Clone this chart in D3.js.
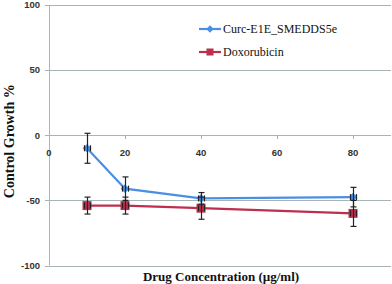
<!DOCTYPE html>
<html><head><meta charset="utf-8">
<script src="https://cdn.jsdelivr.net/npm/d3@7"></script>
<style>body{margin:0;background:#fff}svg{display:block}</style>
</head><body><svg id="c" width="392" height="284"></svg>
<script>
const concentrations = [10, 20, 40, 80];
const curcValues = [-10, -41, -48.5, -47.5];
const curcErrors = [11.5, 9, 4.5, 7.5];
const doxoValues = [-54, -54, -56, -60];
const doxoErrors = [6.5, 6.5, 8.5, 10];
const seriesNames = ["Curc-E1E_SMEDDS5e", "Doxorubicin"];
const xTicks = [0, 20, 40, 60, 80];
const yTicks = [-100, -50, 0, 50, 100];

const svg = d3.select("#c");
const x = d3.scaleLinear().domain([0, 90]).range([49, 391]);
const y = d3.scaleLinear().domain([-100, 100]).range([265.5, 5]);
const grid = "#a9b4b9";

// gridlines
svg.append("g").selectAll("line").data(yTicks).join("line")
  .attr("x1", x(0)).attr("x2", x(90))
  .attr("y1", d => Math.round(y(d)) + 0.5).attr("y2", d => Math.round(y(d)) + 0.5)
  .attr("stroke", grid).attr("stroke-width", 1);

// y axis line
svg.append("line").attr("x1", 49.5).attr("x2", 49.5).attr("y1", y(100)).attr("y2", y(-100))
  .attr("stroke", grid);
svg.append("g").selectAll("line").data(yTicks).join("line")
  .attr("x1", 45).attr("x2", 49.5)
  .attr("y1", d => Math.round(y(d)) + 0.5).attr("y2", d => Math.round(y(d)) + 0.5)
  .attr("stroke", grid);
svg.append("g").selectAll("text").data(yTicks).join("text")
  .attr("x", 40).attr("y", d => y(d)).attr("dy", "0.35em")
  .attr("text-anchor", "end")
  .attr("font-family", "Liberation Sans, Arial, sans-serif").attr("font-size", 9.5).attr("font-weight", "bold")
  .attr("fill", "#333").text(d => d);

// x ticks on zero line
svg.append("g").selectAll("line").data(xTicks.slice(1)).join("line")
  .attr("x1", d => Math.round(x(d)) + 0.5).attr("x2", d => Math.round(x(d)) + 0.5)
  .attr("y1", Math.round(y(0)) + 0.5).attr("y2", Math.round(y(0)) + 4)
  .attr("stroke", grid);
svg.append("g").selectAll("text").data(xTicks).join("text")
  .attr("x", d => x(d)).attr("y", y(0) + 17).attr("dy", "0.35em")
  .attr("text-anchor", "middle")
  .attr("font-family", "Liberation Sans, Arial, sans-serif").attr("font-size", 9.5).attr("font-weight", "bold")
  .attr("fill", "#333").text(d => d);

const colors = ["#4a8fe3", "#bd2f4e"];
const series = [
  {name: seriesNames[0], vals: curcValues, errs: curcErrors, color: colors[0], marker: "diamond"},
  {name: seriesNames[1], vals: doxoValues, errs: doxoErrors, color: colors[1], marker: "square"}
];

const line = d3.line().x(d => x(d[0])).y(d => y(d[1]));

series.forEach(s => {
  const pts = concentrations.map((c, i) => [c, s.vals[i], s.errs[i]]);
  svg.append("path").datum(pts).attr("d", line).attr("fill", "none")
    .attr("stroke", s.color).attr("stroke-width", 2.2);
  const g = svg.append("g");
  pts.forEach(p => {
    const cx = x(p[0]), cy = y(p[1]);
    if (s.marker === "diamond") {
      g.append("path").attr("d", d3.symbol(d3.symbolDiamond2, 48)())
        .attr("transform", `translate(${cx},${cy})`).attr("fill", s.color);
    } else {
      g.append("rect").attr("x", cx - 4.5).attr("y", cy - 4.5).attr("width", 9).attr("height", 9)
        .attr("fill", s.color);
    }
  });
});

// error bars on top
series.forEach(s => {
  const g = svg.append("g").attr("stroke", "#222").attr("stroke-width", 1.2);
  concentrations.forEach((c, i) => {
    const cx = Math.round(x(c)) + 0.5, cy = y(s.vals[i]);
    const t = y(s.vals[i] + s.errs[i]), b = y(s.vals[i] - s.errs[i]);
    g.append("line").attr("x1", cx).attr("x2", cx).attr("y1", t).attr("y2", b);
    g.append("line").attr("x1", cx - 3).attr("x2", cx + 3).attr("y1", t).attr("y2", t);
    g.append("line").attr("x1", cx - 3).attr("x2", cx + 3).attr("y1", b).attr("y2", b);
    // tiny horizontal error bars
    g.append("line").attr("x1", cx - 3).attr("x2", cx - 3).attr("y1", cy - 3).attr("y2", cy + 3);
    g.append("line").attr("x1", cx + 3).attr("x2", cx + 3).attr("y1", cy - 3).attr("y2", cy + 3);
  });
});

// legend
series.forEach((s, i) => {
  const ly = 29 + i * 23;
  svg.append("line").attr("x1", 199).attr("x2", 221).attr("y1", ly).attr("y2", ly)
    .attr("stroke", s.color).attr("stroke-width", 2.2);
  if (s.marker === "diamond") {
    svg.append("path").attr("d", d3.symbol(d3.symbolDiamond2, 36)())
      .attr("transform", `translate(210,${ly})`).attr("fill", s.color);
  } else {
    svg.append("rect").attr("x", 206.5).attr("y", ly - 3.5).attr("width", 7).attr("height", 7).attr("fill", s.color);
  }
  svg.append("text").attr("x", 223).attr("y", ly).attr("dy", "0.35em")
    .attr("font-family", "Liberation Serif, Times New Roman, serif").attr("font-size", 12)
    .attr("fill", "#111").text(s.name);
});

// axis titles
svg.append("text").attr("transform", `translate(9,${y(0) + 6}) rotate(-90)`)
  .attr("text-anchor", "middle").attr("dy", "0.35em")
  .attr("font-family", "Liberation Serif, Times New Roman, serif").attr("font-size", 14).attr("font-weight", "bold")
  .attr("fill", "#111").text("Control Growth %");
svg.append("text").attr("x", 221).attr("y", 276).attr("text-anchor", "middle").attr("dy", "0.35em")
  .attr("font-family", "Liberation Serif, Times New Roman, serif").attr("font-size", 13).attr("font-weight", "bold")
  .attr("fill", "#111").text("Drug Concentration (µg/ml)");
</script></body></html>
